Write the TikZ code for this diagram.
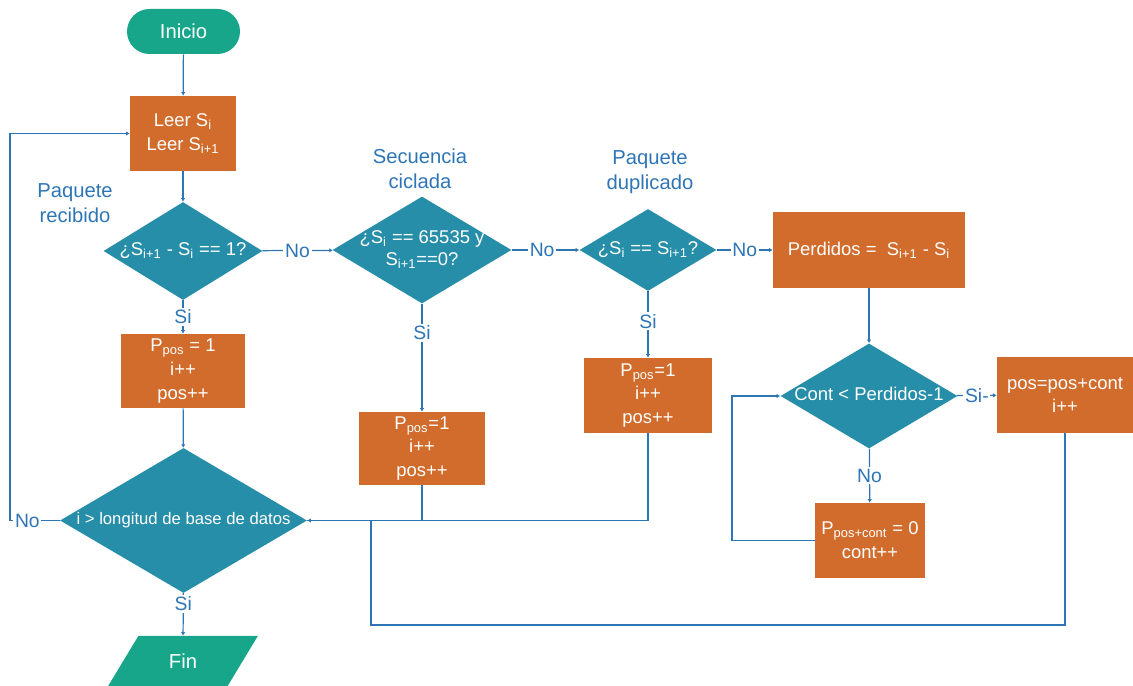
\documentclass[tikz,border=0pt]{standalone}
\usepackage{fontspec}
\setmainfont{Liberation Sans}
\usetikzlibrary{positioning, arrows.meta, shapes.geometric}
\definecolor{tealgreen}{RGB}{23,166,137}
\definecolor{rust}{RGB}{209,108,44}
\definecolor{petrol}{RGB}{38,142,168}
\definecolor{linkblue}{RGB}{46,117,182}
\newcommand{\dlines}[1]{\makebox[0pt]{\begin{tabular}{@{}c@{}}#1\end{tabular}}}
\newcommand{\sub}[1]{\textsubscript{#1}}
\tikzset{
  proc/.style={
    rectangle, fill=rust, text=white,
    font=\fontsize{10.5}{13.5}\selectfont,
    inner sep=0pt, align=center
  },
  dec/.style={
    diamond, fill=petrol, text=white,
    font=\fontsize{10.5}{13}\selectfont,
    inner sep=0pt, align=center
  },
  term/.style={
    rectangle, rounded corners=0.45cm, fill=tealgreen, text=white,
    font=\fontsize{11.5}{14}\selectfont,
    minimum width=2.26cm, minimum height=0.90cm
  },
  iobox/.style={
    trapezium, trapezium left angle=63, trapezium right angle=117,
    trapezium stretches=true, fill=tealgreen, text=white,
    font=\fontsize{11.5}{14}\selectfont,
    minimum width=3.00cm, minimum height=1.00cm
  },
  note/.style={text=linkblue, font=\fontsize{11.5}{14}\selectfont, align=center},
  yn/.style={fill=white, text=linkblue, font=\fontsize{11}{13}\selectfont, inner sep=1pt},
  conn/.style={draw=linkblue, line width=0.7pt, -{Latex[length=2pt, width=2.5pt]}},
  link/.style={draw=linkblue, line width=0.7pt},
}
\begin{document}
\begin{tikzpicture}
        \useasboundingbox (0,0) rectangle (22.66,13.72);
        % terminales y procesos
        \node[term] (inicio) at (3.67, 13.09) {Inicio};
        \node[proc, minimum width=2.12cm, minimum height=1.50cm] (leer) at (3.66, 11.05)
          {Leer S\sub{i}\\Leer S\sub{i+1}};
        \node[dec, minimum width=3.18cm, minimum height=1.96cm] (recib) at (3.66, 8.70)
          {\dlines{¿S\sub{i+1} - S\sub{i} == 1?}};
        \node[dec, minimum width=3.58cm, minimum height=2.14cm] (cicl) at (8.44, 8.72)
          {\dlines{¿S\sub{i} == 65535 y\\S\sub{i+1}==0?}};
        \node[dec, minimum width=2.74cm, minimum height=1.64cm] (dupl) at (12.96, 8.72)
          {\dlines{¿S\sub{i} == S\sub{i+1}?}};
        \node[proc, minimum width=3.84cm, minimum height=1.52cm] (perd) at (17.38, 8.72)
          {Perdidos =\ \ S\sub{i+1} - S\sub{i}};
        \node[dec, minimum width=3.54cm, minimum height=2.10cm] (cont) at (17.38, 5.80)
          {\dlines{Cont < Perdidos-1}};
        \node[proc, minimum width=2.72cm, minimum height=1.52cm] (salto) at (21.30, 5.82)
          {pos=pos+cont\\i++};
        \node[proc, minimum width=2.20cm, minimum height=1.50cm] (pcero) at (17.40, 2.91)
          {P\sub{pos+cont} = 0\\cont++};
        \node[proc, minimum width=2.48cm, minimum height=1.48cm] (pa) at (3.66, 6.30)
          {P\sub{pos} = 1\\i++\\pos++};
        \node[proc, minimum width=2.52cm, minimum height=1.46cm] (pb) at (8.44, 4.75)
          {P\sub{pos}=1\\i++\\pos++};
        \node[proc, minimum width=2.56cm, minimum height=1.50cm] (pc) at (12.96, 5.81)
          {P\sub{pos}=1\\i++\\pos++};
        \node[dec, minimum width=4.94cm, minimum height=2.90cm,
              font=\fontsize{9.5}{12}\selectfont] (lng) at (3.67, 3.31)
          {\dlines{i > longitud de base de datos}};
        \node[iobox] (fin) at (3.66, 0.50) {Fin};
        % notas
        \node[note] (nrecib) at (1.50, 9.66) {Paquete\\recibido};
        \node[note] (ncicl) at (8.40, 10.34) {Secuencia\\ciclada};
        \node[note] (ndupl) at (13.00, 10.28) {Paquete\\duplicado};
        % conectores
        \coordinate (lazo) at (14.64, 2.91);
        \coordinate (vuelta) at (0.20, 3.31);
        \coordinate (rtn) at (7.42, 1.22);
        \draw[conn] (inicio) -- (leer);
        \draw[conn] (leer) -- (recib);
        \draw[conn] (recib) -- node[yn] {No} (cicl);
        \draw[conn] (cicl) -- node[yn, pos=0.45] {No} (dupl);
        \draw[conn] (dupl) -- node[yn] {No} (perd);
        \draw[conn] (recib) -- node[yn] {Si} (pa);
        \draw[conn] (cicl) -- node[yn, pos=0.27] {Si} (pb);
        \draw[conn] (dupl) -- node[yn, pos=0.45] {Si} (pc);
        \draw[conn] (perd) -- (cont);
        \draw[conn] (cont) -- node[yn] {Si-} (salto);
        \draw[conn] (cont) -- node[yn] {No} (pcero);
        \draw[conn] (pcero.west) -- (lazo) |- (cont.west);
        \draw[conn] (pa) -- (lng);
        \draw[conn] (pb.south) |- (lng.east);
        \draw[link] (pc.south) |- (lng.east);
        \draw[link] (salto.south) |- (rtn) -- (rtn |- lng.east);
        \draw[conn] (lng) -- node[yn, pos=0.25] {Si} (fin);
        \draw[conn] (lng.west) -- node[yn, pos=0.65] {No} (vuelta) |- (leer.west);
      \end{tikzpicture}
\end{document}
